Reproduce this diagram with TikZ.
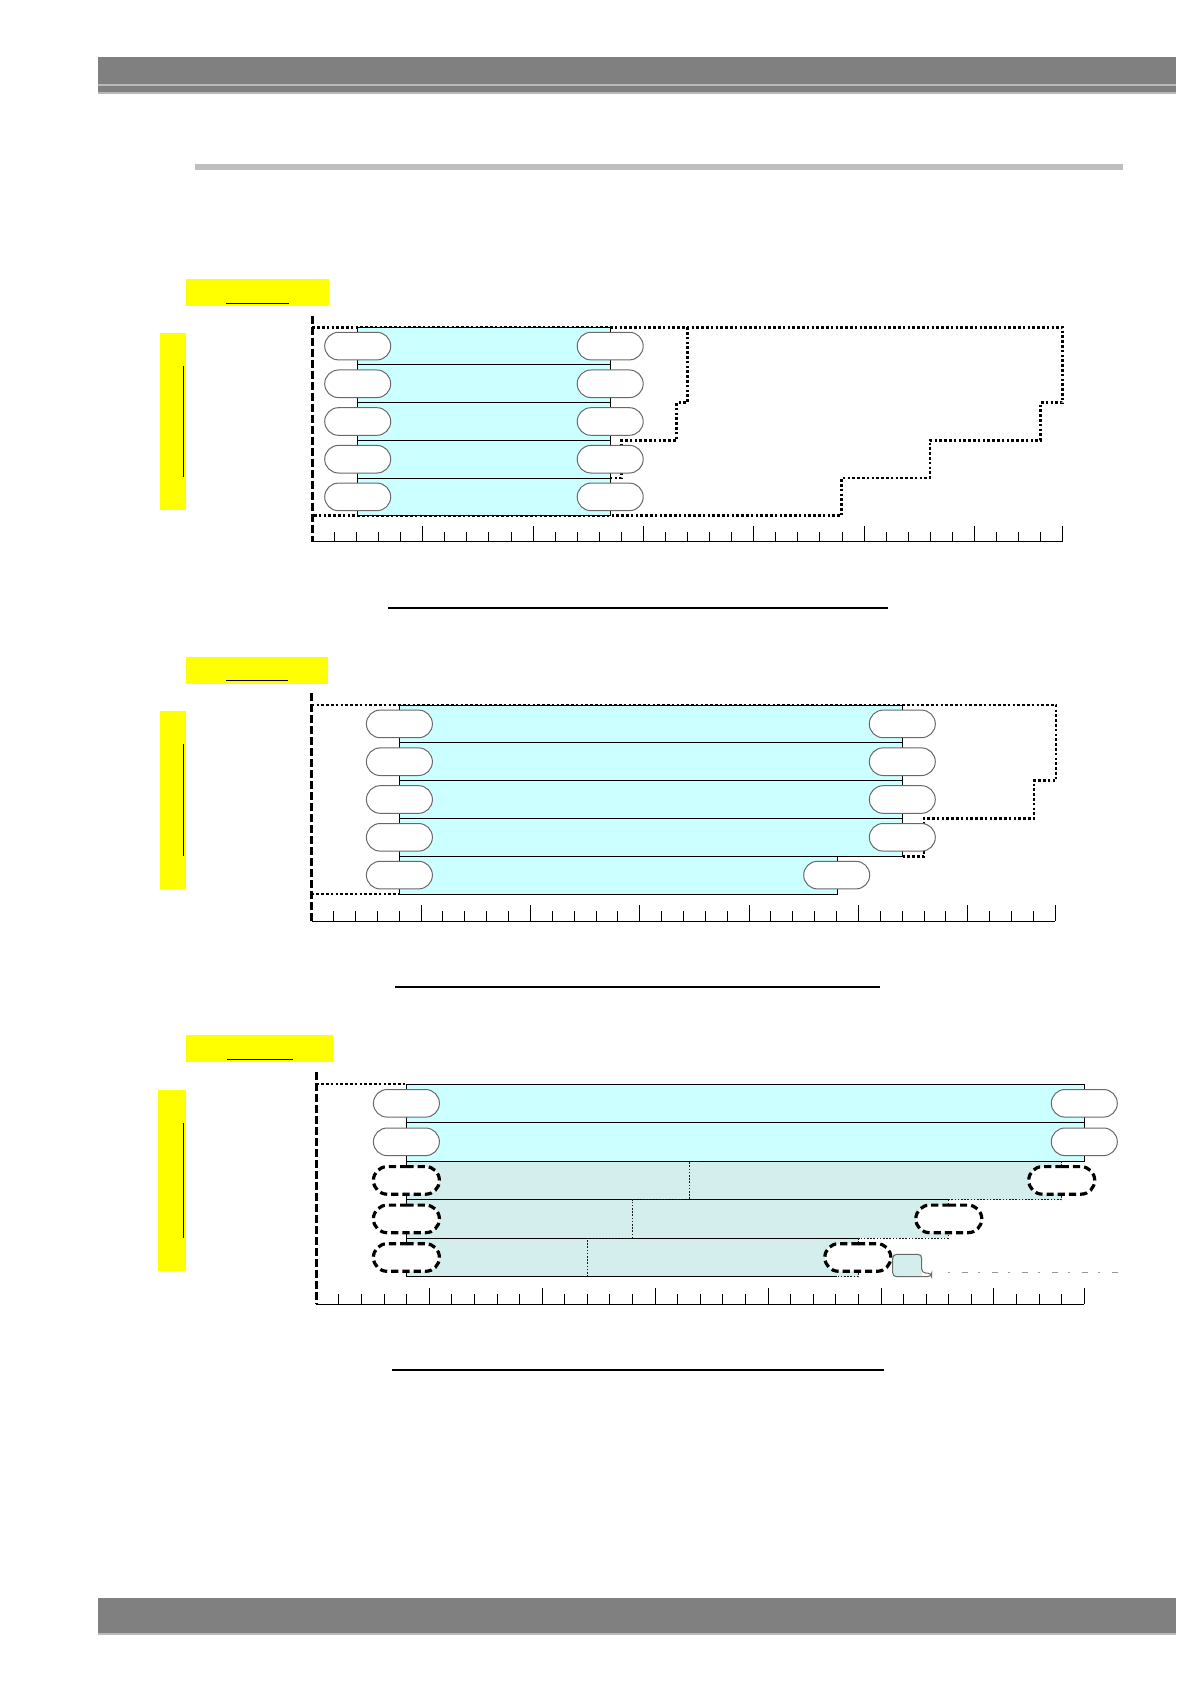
\documentclass[tikz,border=0pt]{standalone}
\usetikzlibrary{shapes.misc}
\definecolor{hdr}{RGB}{128,128,128}
\definecolor{hdrline}{RGB}{185,185,185}
\definecolor{rulegray}{RGB}{190,190,190}
\definecolor{cy}{RGB}{204,255,255}
\definecolor{stip}{RGB}{212,238,238}
\definecolor{yel}{RGB}{255,255,0}
\definecolor{pillgray}{RGB}{105,105,105}
\tikzset{
  dotline/.style={line width=1.4pt, dash pattern=on 1.3pt off 1.1pt},
  finedot/.style={line width=0.6pt, dash pattern=on 0.8pt off 0.8pt, black!90},
  edgeline/.style={line width=0.5pt, black},
  axisline/.style={line width=1.5pt, dash pattern=on 4pt off 1.5pt},
  pill/.style={rounded rectangle, draw=pillgray, fill=white, line width=0.5pt,
    minimum width=33pt, minimum height=13.8pt, inner sep=0pt},
  dpill/.style={pill, draw=black, line width=1.6pt, dash pattern=on 3.6pt off 2pt},
  divider/.style={line width=1pt, black},
}
\newcommand\myruler[3]{%
  \draw[line width=0.5pt] (#1,#3) -- (#2,#3);
  \foreach \i in {1,...,34}{%
    \pgfmathsetmacro\tx{#1+(#2-#1)/34*\i}%
    \pgfmathtruncatemacro\isbig{or(mod(\i,5)==0,\i==34)}%
    \ifnum\isbig=1
      \draw[line width=0.5pt] (\tx,#3) -- (\tx,#3-16);
    \else
      \draw[line width=0.5pt] (\tx,#3) -- (\tx,#3-10);
    \fi
  }%
}
\begin{document}
\begin{tikzpicture}[x=0.5pt,y=-0.5pt]
\useasboundingbox (0,0) rectangle (1190,1684);
\fill[white] (0,0) rectangle (1190,1684);

% header / footer
\fill[hdr] (98.4,56.7) rectangle (1176,93.3);
\draw[hdrline, line width=0.6pt] (98.4,85) -- (1176,85);
\draw[hdrline, line width=0.6pt] (98.4,93) -- (1176,93);
\fill[rulegray] (195,164) rectangle (1122.6,170);
\fill[hdr] (98.4,1598) rectangle (1176,1634.3);
\draw[hdrline, line width=0.6pt] (98.4,1634) -- (1176,1634);

% ================= Diagram 1 =================
\fill[yel] (186.1,279) rectangle (329.3,305.7);
\draw[line width=0.5pt] (226.1,303.3) -- (288.9,303.3);
\fill[yel] (159.5,332.7) rectangle (186.1,510);
\draw[line width=0.5pt] (183.3,366) -- (183.3,477.3);

\draw[dotline] (312.4,327.3) -- (1062.7,327.3) -- (1062.7,402.7) -- (1040.7,402.7)
  -- (1040.7,440.3) -- (930,440.3) -- (930,478) -- (841.7,478) -- (841.7,515.7) -- (312.4,515.7);
\draw[dotline] (687.3,327.3) -- (687.3,402.7) -- (676.7,402.7) -- (676.7,440.3)
  -- (621.7,440.3) -- (621.7,478) -- (610.2,478);
\fill[cy] (357.7,327.3) rectangle (610.2,515.7);
\draw[edgeline] (357.7,327.3) rectangle (610.2,515.7);
\foreach \yy in {365,402.7,440.3,478}{\draw[edgeline] (357.7,\yy) -- (610.2,\yy);}
\foreach \k/\yy in {1/346.1,2/383.8,3/421.5,4/459.2,5/496.9}{
  \node[pill] (a\k l) at (357.7,\yy) {};
  \node[pill] (a\k r) at (610.2,\yy) {};
}
\myruler{312.4}{1062.7}{541.7}
\draw[axisline] (312.4,315.7) -- (312.4,541.7);
\draw[divider] (387.9,607.7) -- (887.6,607.7);

% ================= Diagram 2 =================
\fill[yel] (186.1,656.7) rectangle (327.9,683.7);
\draw[line width=0.5pt] (226.1,680.3) -- (287.5,680.3);
\fill[yel] (159.5,711) rectangle (186.1,888.7);
\draw[line width=0.5pt] (183.3,744.3) -- (183.3,855.7);

\draw[dotline] (311.7,705) -- (1056,705) -- (1056,780.6) -- (1034,780.6) -- (1034,818.4)
  -- (924,818.4) -- (924,856.2) -- (902.3,856.2);
\draw[dotline] (837.3,894) -- (311.7,894);
\fill[cy] (399.4,705) rectangle (902.3,856.2);
\fill[cy] (399.4,856.2) rectangle (837.3,894);
\draw[edgeline] (399.4,705) -- (902.3,705) -- (902.3,856.2) -- (837.3,856.2) -- (837.3,894)
  -- (399.4,894) -- cycle;
\foreach \yy in {742.8,780.6,818.4}{\draw[edgeline] (399.4,\yy) -- (902.3,\yy);}
\draw[edgeline] (399.4,856.2) -- (837.3,856.2);
\foreach \k/\yy in {1/723.9,2/761.7,3/799.5,4/837.3,5/875.1}{
  \node[pill] (b\k l) at (399.4,\yy) {};
}
\foreach \k/\yy in {1/723.9,2/761.7,3/799.5,4/837.3}{
  \node[pill] (b\k r) at (902.3,\yy) {};
}
\node[pill] (b5r) at (836.7,875.1) {};
\myruler{311.7}{1055.3}{921}
\draw[axisline] (311.7,693.3) -- (311.7,921);
\draw[divider] (395.1,986.7) -- (879.7,986.7);

% ================= Diagram 3 =================
\fill[yel] (186.1,1034.7) rectangle (333.1,1061.7);
\draw[line width=0.5pt] (227.2,1059.3) -- (292.8,1059.3);
\fill[yel] (158.1,1090) rectangle (186.1,1270.7);
\draw[line width=0.5pt] (183.3,1123.3) -- (183.3,1237.7);

\draw[dotline] (316.3,1084) -- (406.4,1084);
\fill[cy] (406.4,1084) rectangle (1084.3,1161.1);
\fill[stip] (406.4,1161.1) rectangle (1061.7,1199.6);
\fill[stip] (406.4,1199.6) rectangle (948.3,1238.2);
\fill[stip] (406.4,1238.2) rectangle (858.3,1276.7);
\draw[edgeline] (406.4,1084) rectangle (1084.3,1161.1);
\draw[edgeline] (406.4,1122.5) -- (1084.3,1122.5);
\draw[edgeline] (406.4,1161.1) -- (406.4,1276.7);
\draw[edgeline] (406.4,1199.6) -- (948.3,1199.6);
\draw[edgeline] (406.4,1238.2) -- (860,1238.2);
\draw[edgeline] (406.4,1276.7) -- (836.7,1276.7);
\draw[finedot] (1061.7,1161.1) -- (1061.7,1199.6) -- (948.3,1199.6);
\draw[finedot] (948.3,1199.6) -- (948.3,1238.2) -- (860,1238.2);
\draw[finedot] (858.3,1238.2) -- (858.3,1276.7) -- (836.7,1276.7);
\draw[finedot] (587.8,1276.7) -- (587.8,1238.2) -- (632.7,1238.2) -- (632.7,1199.6)
  -- (689.2,1199.6) -- (689.2,1161.1) -- (700,1161.1);
% small stippled box and faint trail
\fill[stip] (892.7,1254.3) rectangle (921.7,1276.7);
\draw[pillgray, line width=0.5pt, rounded corners=2pt] (892.7,1276.7) -- (892.7,1254.3) -- (921.7,1254.3)
  -- (921.7,1273) -- (931.7,1273) -- (931.7,1276.7) -- cycle;
\draw[black!40, line width=0.5pt, dash pattern=on 1pt off 6pt on 3pt off 5pt] (948,1272.7) -- (1120,1272.7);

\foreach \k/\yy in {1/1103.3,2/1141.8}{
  \node[pill] (c\k l) at (406.4,\yy) {};
  \node[pill] (c\k r) at (1084.3,\yy) {};
}
\foreach \k/\yy in {3/1180.4,4/1218.9,5/1257.5}{
  \node[dpill] (c\k l) at (406.4,\yy) {};
}
\node[dpill] (c3r) at (1061.7,1180.4) {};
\node[dpill] (c4r) at (948.8,1218.9) {};
\node[dpill] (c5r) at (857.8,1257.5) {};
\myruler{316.3}{1084.3}{1304}
\draw[axisline] (316.3,1072.3) -- (316.3,1304);
\draw[divider] (392,1370) -- (884.2,1370);
\end{tikzpicture}
\end{document}
